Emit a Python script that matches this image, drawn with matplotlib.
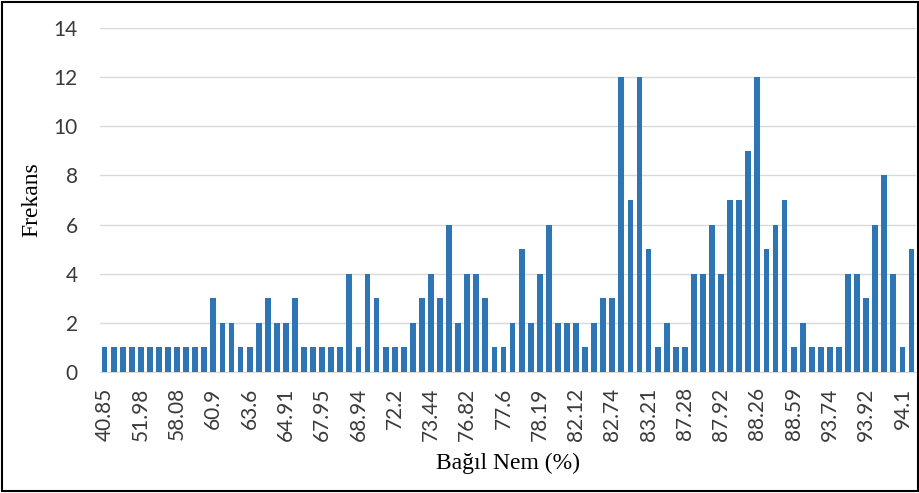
import numpy as np
import matplotlib
matplotlib.use("Agg")
import matplotlib.pyplot as plt
from matplotlib.patches import Rectangle

# frequency per humidity class (90 classes, left to right)
counts = [1, 1, 1, 1, 1, 1, 1, 1, 1, 1, 1, 1,
          3, 2, 2, 1, 1, 2, 3, 2, 2, 3, 1, 1, 1, 1, 1, 4, 1, 4,
          3, 1, 1, 1, 2, 3, 4, 3, 6, 2, 4, 4, 3, 1, 1, 2, 5, 2, 4, 6,
          2, 2, 2, 1, 2, 3, 3, 12, 7, 12, 5, 1, 2, 1, 1, 4, 4, 6, 4, 7,
          7, 9, 12, 5, 6, 7, 1, 2, 1, 1, 1, 1, 4, 4, 3, 6, 8, 4, 1, 5]
# only every 4th class is labelled on the axis
tick_labels = ["40.85", "51.98", "58.08", "60.9", "63.6", "64.91", "67.95",
               "68.94", "72.2", "73.44", "76.82", "77.6", "78.19", "82.12",
               "82.74", "83.21", "87.28", "87.92", "88.26", "88.59", "93.74",
               "93.92", "94.1"]

BLUE = "#2E75B6"
x = np.arange(len(counts))

fig = plt.figure(figsize=(9.2, 4.93), dpi=100)
ax = fig.add_axes([0.1087, 0.2454, 0.8870, 0.6978])

ax.bar(x, counts, width=0.64, color=BLUE, zorder=3)
ax.set_xlim(-0.5, len(counts) - 0.5)
ax.set_ylim(0, 14)
ax.set_yticks(range(0, 15, 2))
ax.set_xticks(x[::4])
ax.set_xticklabels(tick_labels, rotation=90)

ax.grid(axis="y", color="#D9D9D9", lw=1.0, zorder=0)
for s in ("top", "right", "left"):
    ax.spines[s].set_visible(False)
ax.spines["bottom"].set_color("#D9D9D9")
ax.tick_params(axis="both", length=0, labelsize=15, labelcolor="#3A3A3A")
ax.tick_params(axis="y", pad=16)
ax.tick_params(axis="x", pad=11)
for lab in ax.get_xticklabels() + ax.get_yticklabels():
    lab.set_family("Lato")

ax.set_ylabel("Frekans", family="Liberation Serif", fontsize=17, va="center")
ax.yaxis.set_label_coords(-0.083, 0.5)
ax.set_xlabel("Bağıl Nem (%)", family="Liberation Serif", fontsize=17, va="center")
ax.xaxis.set_label_coords(0.5, -0.267)

# thin black frame around the whole picture
fig.patches.append(Rectangle((0.002, 0.004), 0.996, 0.992, transform=fig.transFigure,
                             fill=False, edgecolor="black", lw=1.5))

fig.savefig("out.png", dpi=100)
